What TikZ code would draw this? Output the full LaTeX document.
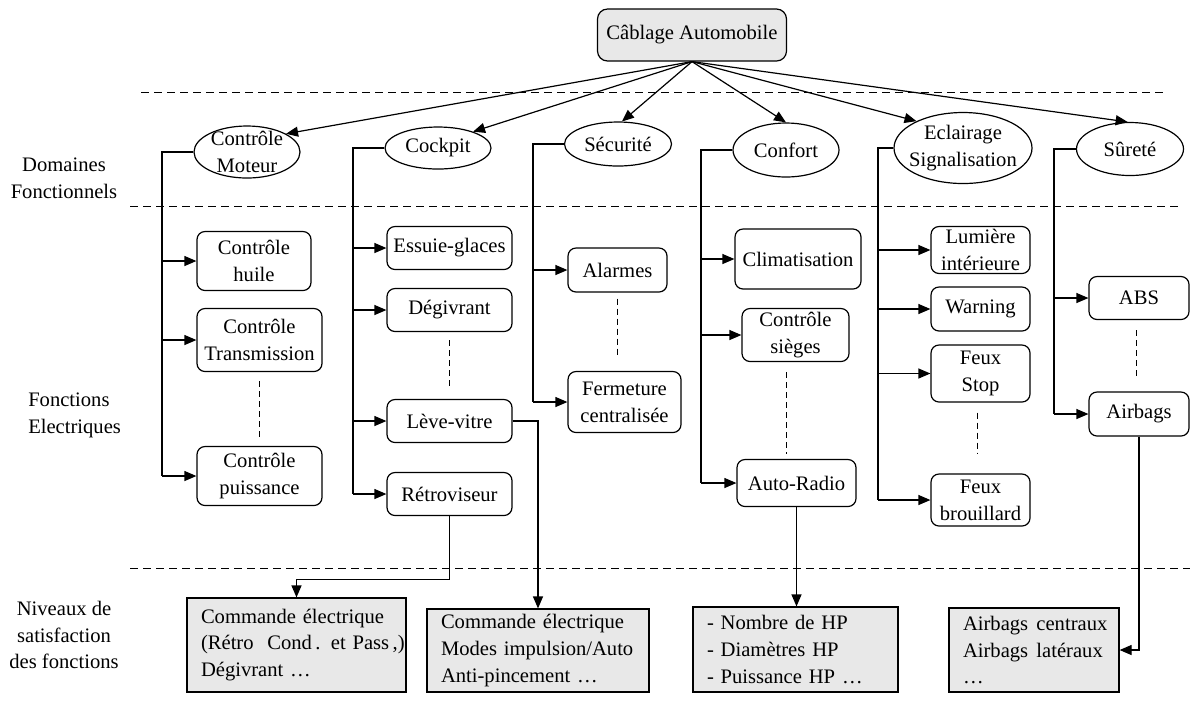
\documentclass[tikz,border=0pt]{standalone}
\usepackage{fontspec}
\setmainfont{Liberation Serif}
\usepackage{tikz}
\usetikzlibrary{shapes,arrows,arrows.meta}

\begin{document}
\begin{tikzpicture}[x=0.5pt, y=-0.5pt, line width=0.6pt,
  font=\fontsize{10.3}{13.4}\selectfont,
  racine/.style={draw, fill=black!9, rounded corners=5pt, inner sep=0pt},
  domaine/.style={draw, ellipse, inner sep=-6pt, align=center},
  fonction/.style={draw, rounded corners=4pt, inner sep=0pt, align=center},
  niveau/.style={draw, fill=black!9, inner xsep=7pt, inner ysep=0pt, align=left},
  fleche/.style={-{Triangle[length=6pt, width=5pt]}},
  separation/.style={line width=0.5pt, dash pattern=on 4pt off 2.5pt},
  pointille/.style={line width=0.5pt, dash pattern=on 3pt off 2pt}]
\useasboundingbox (0,0) rectangle (1192,720);

% separations
\draw[separation] (141,92) -- (1167,92);
\draw[separation] (130,206) -- (1178,206);
\draw[separation] (130,568) -- (1190,568);

% legende
\node[align=center] (legDomaines) at (64,178) {Domaines\\Fonctionnels};
\node[align=left, anchor=west] (legFonctions) at (21,415) {Fonctions\\Electriques};
\node[align=center] (legNiveaux) at (64,635) {Niveaux de\\satisfaction\\des fonctions};

% Nodes
\node[racine, minimum width=94.5pt, minimum height=26pt] (cablage) at (692,35) {Câblage Automobile};

\node[domaine, minimum width=53pt, minimum height=26pt] (moteur) at (247,152) {Contrôle\\Moteur};
\node[domaine, minimum width=53pt, minimum height=21pt] (cockpit) at (438,148) {Cockpit};
\node[domaine, minimum width=53.5pt, minimum height=22pt] (securite) at (618,144) {Sécurité};
\node[domaine, minimum width=53pt, minimum height=27pt] (confort) at (786,150) {Confort};
\node[domaine, minimum width=69pt, minimum height=35.5pt] (eclairage) at (963,148) {Eclairage\\Signalisation};
\node[domaine, minimum width=53.5pt, minimum height=26.5pt] (surete) at (1130,149) {Sûreté};

\node[fonction, minimum width=57pt, minimum height=29.5pt] (huile) at (254,261) {Contrôle\\huile};
\node[fonction, minimum width=62.5pt, minimum height=31.5pt] (transmission) at (259.5,340) {Contrôle\\Transmission};
\node[fonction, minimum width=62.5pt, minimum height=29.5pt] (puissance) at (259.5,476) {Contrôle\\puissance};

\node[fonction, minimum width=62.5pt, minimum height=21.5pt] (essuie) at (449.5,248) {Essuie-glaces};
\node[fonction, minimum width=62.5pt, minimum height=21.5pt] (degivrant) at (449.5,310) {Dégivrant};
\node[fonction, minimum width=62.5pt, minimum height=21.5pt] (levevitre) at (449.5,421) {Lève-vitre};
\node[fonction, minimum width=62.5pt, minimum height=21.5pt] (retro) at (449.5,494) {Rétroviseur};

\node[fonction, minimum width=49.5pt, minimum height=22pt] (alarmes) at (617.5,270) {Alarmes};
\node[fonction, minimum width=56.5pt, minimum height=30.5pt] (fermeture) at (624.5,402) {Fermeture\\centralisée};

\node[fonction, minimum width=63pt, minimum height=30pt] (clim) at (798,259) {Climatisation};
\node[fonction, minimum width=53.5pt, minimum height=26.5pt] (sieges) at (795.5,335) {Contrôle\\sièges};
\node[fonction, minimum width=59.5pt, minimum height=23.5pt] (radio) at (796.5,483) {Auto-Radio};

\node[fonction, minimum width=49.5pt, minimum height=23.5pt] (lumiere) at (980.5,250) {Lumière\\intérieure};
\node[fonction, minimum width=49.5pt, minimum height=22pt] (warning) at (980.5,309) {Warning};
\node[fonction, minimum width=49.5pt, minimum height=28.5pt] (stop) at (980.5,373.5) {Feux\\Stop};
\node[fonction, minimum width=49.5pt, minimum height=26pt] (brouillard) at (980.5,500) {Feux\\brouillard};

\node[fonction, minimum width=50pt, minimum height=21.5pt] (abs) at (1139,298) {ABS};
\node[fonction, minimum width=50pt, minimum height=22pt] (airbags) at (1139,414) {Airbags};

\node[niveau, text width=95.5pt, minimum height=47pt] (satRetro) at (296.5,645) {Commande électrique\\\mbox{(Rétro\ \ Cond\,. et Pass\,,)}\\Dégivrant …};
\node[niveau, text width=97pt, minimum height=41.5pt] (satVitre) at (538,650.5) {Commande électrique\\\mbox{Modes impulsion/Auto}\\Anti-pincement …};
\node[niveau, text width=88.5pt, minimum height=42.5pt] (satRadio) at (795.5,649.5) {- Nombre de HP\\- Diamètres HP\\- Puissance HP …};
\node[niveau, text width=71pt, minimum height=42pt] (satAirbags) at (1034,650) {\mbox{Airbags\hspace{0.4em}centraux}\\\mbox{Airbags\hspace{0.4em}latéraux}\\…};

% edges from the root
\draw[fleche] (cablage.south) -- (moteur.25);
\draw[fleche] (cablage.south) -- (cockpit.25);
\draw[fleche] (cablage.south) -- (securite.80);
\draw[fleche] (cablage.south) -- (confort.north);
\draw[fleche] (cablage.south) -- (eclairage.150);
\draw[fleche] (cablage.south) -- (surete.95);

% buses
\coordinate (busMoteur) at (162,152);
\coordinate (busCockpit) at (353,148);
\coordinate (busSecurite) at (533,144);
\coordinate (busConfort) at (701,150);
\coordinate (busEclairage) at (878,148);
\coordinate (busSurete) at (1054,149);

\draw (moteur.west) -- (busMoteur) -- (busMoteur |- puissance.west);
\draw[fleche] (busMoteur |- huile.west) -- (huile.west);
\draw[fleche] (busMoteur |- transmission.west) -- (transmission.west);
\draw[fleche] (busMoteur |- puissance.west) -- (puissance.west);

\draw (cockpit.west) -- (busCockpit) -- (busCockpit |- retro.west);
\draw[fleche] (busCockpit |- essuie.west) -- (essuie.west);
\draw[fleche] (busCockpit |- degivrant.west) -- (degivrant.west);
\draw[fleche] (busCockpit |- levevitre.west) -- (levevitre.west);
\draw[fleche] (busCockpit |- retro.west) -- (retro.west);

\draw (securite.west) -- (busSecurite) -- (busSecurite |- fermeture.west);
\draw[fleche] (busSecurite |- alarmes.west) -- (alarmes.west);
\draw[fleche] (busSecurite |- fermeture.west) -- (fermeture.west);

\draw (confort.west) -- (busConfort) -- (busConfort |- radio.west);
\draw[fleche] (busConfort |- clim.west) -- (clim.west);
\draw[fleche] (busConfort |- sieges.west) -- (sieges.west);
\draw[fleche] (busConfort |- radio.west) -- (radio.west);

\draw (eclairage.west) -- (busEclairage) -- (busEclairage |- brouillard.west);
\draw[fleche] (busEclairage |- lumiere.west) -- (lumiere.west);
\draw[fleche] (busEclairage |- warning.west) -- (warning.west);
\draw[fleche] (busEclairage |- stop.west) -- (stop.west);
\draw[fleche] (busEclairage |- brouillard.west) -- (brouillard.west);

\draw (surete.west) -- (busSurete) -- (busSurete |- airbags.west);
\draw[fleche] (busSurete |- abs.west) -- (abs.west);
\draw[fleche] (busSurete |- airbags.west) -- (airbags.west);

% dashed continuations
\draw[pointille] ([yshift=-4.5pt]transmission.south) -- ([yshift=3pt]transmission.south |- puissance.north);
\draw[pointille] ([yshift=-4pt]degivrant.south) -- ([yshift=4.5pt]degivrant.south |- levevitre.north);
\draw[pointille] ([yshift=-3pt]alarmes.south) -- ([yshift=7pt]alarmes.south |- fermeture.north);
\draw[pointille] ([xshift=-4.5pt, yshift=-5pt]sieges.south) -- ([xshift=-4.5pt, yshift=2.5pt]sieges.south |- radio.north);
\draw[pointille] ([xshift=-1.5pt, yshift=-5pt]stop.south) -- ([xshift=-1.5pt, yshift=10pt]stop.south |- brouillard.north);
\draw[pointille] ([xshift=-1.5pt, yshift=-5pt]abs.south) -- ([xshift=-1.5pt, yshift=6pt]abs.south |- airbags.north);

% edges to the satisfaction levels
\draw[fleche] (retro.south) -- ++(0,63) -| (satRetro.north);
\draw[fleche] (levevitre.east) -| (satVitre.north);
\draw[fleche] (radio.south) -- (radio.south |- satRadio.north);
\draw[fleche] (airbags.south) |- (satAirbags.east);
\end{tikzpicture}
\end{document}
